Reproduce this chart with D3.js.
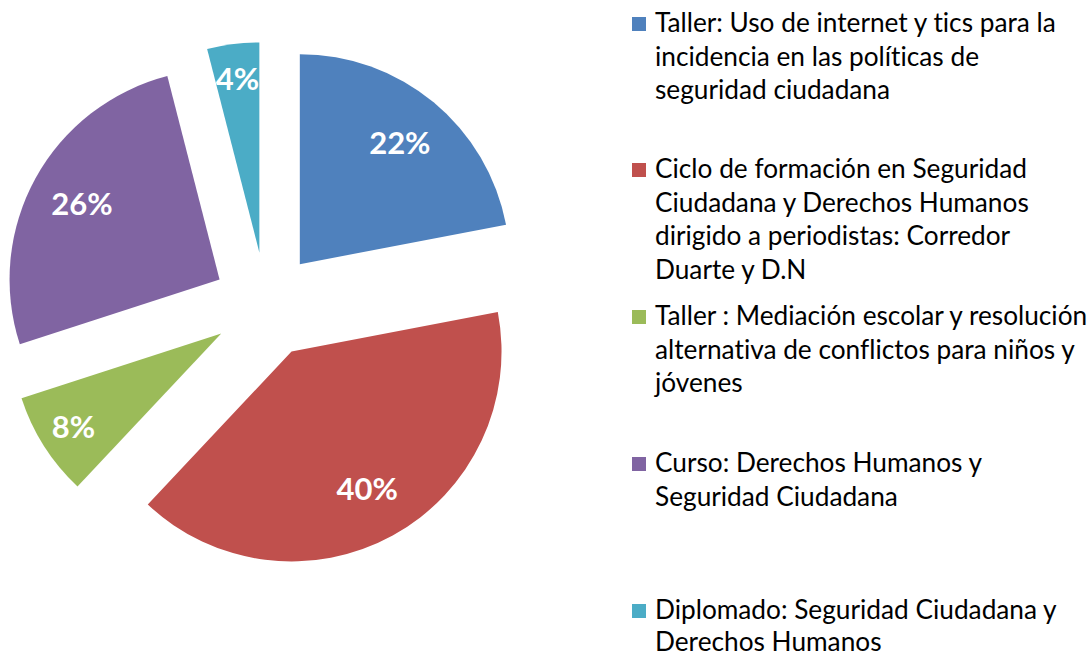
<!DOCTYPE html>
<html><head><meta charset="utf-8">
<script src="https://cdn.jsdelivr.net/npm/d3@7"></script>
<style>html,body{margin:0;padding:0;background:#fff;}svg{display:block} text{font-variant-ligatures:none;}</style>
</head><body>
<svg id="chart" width="1091" height="656"></svg>
<script>
const categories = [
  "Taller: Uso de internet y tics para la incidencia en las políticas de seguridad ciudadana",
  "Ciclo de formación en Seguridad Ciudadana y Derechos Humanos dirigido a periodistas: Corredor Duarte y D.N",
  "Taller : Mediación escolar y resolución alternativa de conflictos para niños y jóvenes",
  "Curso: Derechos Humanos y Seguridad Ciudadana",
  "Diplomado: Seguridad Ciudadana y Derechos Humanos"
];
const legendLines = [
  ["Taller: Uso de internet y tics para la", "incidencia en las políticas de", "seguridad ciudadana"],
  ["Ciclo de formación en Seguridad", "Ciudadana y Derechos Humanos", "dirigido a periodistas: Corredor", "Duarte y D.N"],
  ["Taller : Mediación escolar y resolución", "alternativa de conflictos para niños y", "jóvenes"],
  ["Curso: Derechos Humanos y", "Seguridad Ciudadana"],
  ["Diplomado: Seguridad Ciudadana y", "Derechos Humanos"]
];
const values = [22, 40, 8, 26, 4];
const colors = ["#4F81BD", "#C0504D", "#9BBB59", "#8064A2", "#4BACC6"];

const svg = d3.select("#chart");
const cx = 266, cy = 305, R = 210, explode = 53;

const pie = d3.pie().sort(null).value(d => d)(values);
const arc = d3.arc().innerRadius(0).outerRadius(R);
const total = d3.sum(values);

const g = svg.append("g").attr("transform", `translate(${cx},${cy})`);
const slices = g.selectAll("g.slice").data(pie).enter().append("g")
  .attr("transform", d => {
    const a = (d.startAngle + d.endAngle) / 2;
    return `translate(${explode * Math.sin(a)},${-explode * Math.cos(a)})`;
  });
slices.append("path").attr("d", arc).attr("fill", (d, i) => colors[i]);
slices.append("text")
  .attr("x", d => { const a = (d.startAngle + d.endAngle) / 2; const r = d.value < 10 ? 175 : 157; return r * Math.sin(a); })
  .attr("y", d => { const a = (d.startAngle + d.endAngle) / 2; const r = d.value < 10 ? 175 : 157; return -r * Math.cos(a); })
  .attr("dy", "0.36em")
  .attr("text-anchor", "middle")
  .attr("fill", "#fff")
  .attr("font-family", "Lato, 'Open Sans', sans-serif")
  .attr("font-weight", "bold")
  .attr("font-size", 31)
  .text(d => Math.round(d.value / total * 100) + "%");

// legend
const legendX = 655;
const baselines = [[32, 65.5, 99], [178, 211.5, 245, 279], [325, 358.5, 392], [472, 505.5], [619, 651]];
const lg = svg.append("g").attr("font-family", "Lato, 'Open Sans', sans-serif").attr("fill", "#000");
const probe = lg.append("text").attr("font-size", 100).text(legendLines[0][0]);
const w100 = probe.node().getComputedTextLength();
probe.remove();
const fs = 100 * 401 / w100;
legendLines.forEach((lines, i) => {
  lg.append("rect").attr("x", 632).attr("y", baselines[i][0] - 15).attr("width", 14).attr("height", 14).attr("fill", colors[i]);
  lines.forEach((t, j) => {
    lg.append("text").attr("x", legendX).attr("y", baselines[i][j]).attr("font-size", fs).attr("fill", "#000").text(t);
  });
});
</script>
</body></html>
